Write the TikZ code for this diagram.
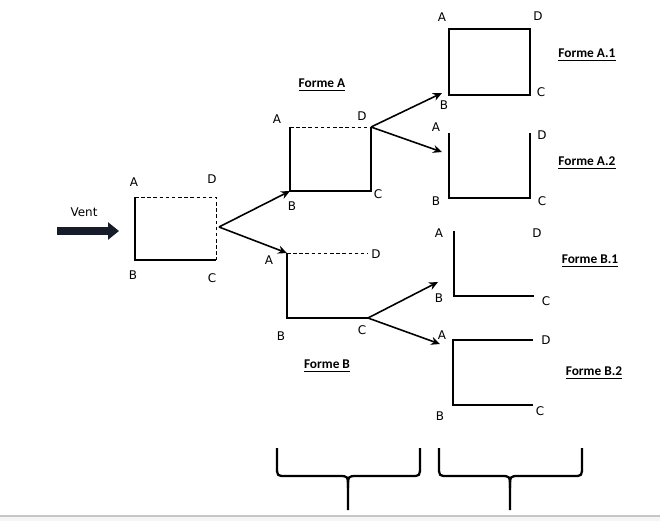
\documentclass[tikz,border=0pt]{standalone}
\usepackage{fontspec}
\setmainfont{Carlito}
\newfontfamily\ptfont{DejaVu Sans}
\usepackage{tikz}
\usetikzlibrary{arrows.meta,positioning,calc}
\definecolor{ventcol}{RGB}{22,28,42}

\begin{document}
\begin{tikzpicture}[
  x=0.2mm, y=-0.2mm,
  wall/.style={line width=1.6pt, line join=miter},
  open/.style={dashed, line width=0.5pt, dash pattern=on 2pt off 1.5pt},
  arr/.style={-{Stealth[length=1.8mm, width=1.6mm]}, line width=0.9pt},
  pt/.style={font=\ptfont\fontsize{6.8}{8}\selectfont, inner sep=0pt},
  title/.style={font=\bfseries\fontsize{7.6}{9}\selectfont, inner sep=0pt},
  brace/.style={line width=1.3pt},
]
  \useasboundingbox (0,0) rectangle (660,521);
  \fill[gray!8] (0,516) rectangle (660,521);
  \draw[gray!45, line width=0.6pt] (0,516) -- (660,516);

  % vent
  \coordinate (vtail) at (57,231);
  \coordinate (vhead) at (119,231);
  \node[pt, font=\ptfont\fontsize{6.8}{8}\selectfont] (vent) at (84,212) {Vent};
  \draw[ventcol, line width=1.6mm, -{Triangle[length=2.2mm, width=3.4mm]}] (vtail) -- (vhead);

  % initial box
  \coordinate (a0) at (135,197);
  \coordinate (b0) at (135,260);
  \coordinate (c0) at (216,260);
  \coordinate (d0) at (216,197);
  \draw[wall] (a0) -- (b0) -- (c0);
  \draw[open] (a0) -- (d0) -- (c0);
  \node[pt] (la0) at (134,182) {A};
  \node[pt] (ld0) at (212,179) {D};
  \node[pt] (lb0) at (133,275) {B};
  \node[pt] (lc0) at (212,278) {C};
  \coordinate (s0) at (219,227);

  % Forme A
  \coordinate (aA) at (290,127);
  \coordinate (bA) at (290,191);
  \coordinate (cA) at (371,191);
  \coordinate (dA) at (371,127);
  \draw[wall] (aA) -- (bA) -- (cA) -- (dA);
  \draw[open] (aA) -- (dA);
  \node[pt] (laA) at (277,119) {A};
  \node[pt] (ldA) at (362,116) {D};
  \node[pt] (lbA) at (292,206) {B};
  \node[pt] (lcA) at (378,194) {C};
  \node[title] (tA) at (322,85) {\underline{Forme A}};

  % Forme B
  \coordinate (aB) at (287,253);
  \coordinate (bB) at (287,318);
  \coordinate (cB) at (368,318);
  \coordinate (dB) at (368,253);
  \draw[wall] (aB) -- (bB) -- (cB);
  \draw[open] (aB) -- (dB);
  \node[pt] (laB) at (269,260) {A};
  \node[pt] (ldB) at (376,254) {D};
  \node[pt] (lbB) at (281,336) {B};
  \node[pt] (lcB) at (362,330) {C};
  \node[title] (tB) at (327,366) {\underline{Forme B}};

  % Forme A.1
  \coordinate (aA1) at (449,29);
  \coordinate (bA1) at (449,95);
  \coordinate (cA1) at (530,95);
  \coordinate (dA1) at (530,29);
  \draw[wall] (aA1) -- (bA1) -- (cA1) -- (dA1) -- cycle;
  \node[pt] (laA1) at (442,17) {A};
  \node[pt] (ldA1) at (538,16) {D};
  \node[pt] (lbA1) at (444,105) {B};
  \node[pt] (lcA1) at (541,92) {C};
  \node[title] (tA1) at (587,55) {\underline{Forme A.1}};

  % Forme A.2
  \coordinate (aA2) at (449,133);
  \coordinate (bA2) at (449,198);
  \coordinate (cA2) at (530,198);
  \coordinate (dA2) at (530,133);
  \draw[wall] (aA2) -- (bA2) -- (cA2) -- (dA2);
  \node[pt] (laA2) at (436,127) {A};
  \node[pt] (ldA2) at (542,135) {D};
  \node[pt] (lbA2) at (436,201) {B};
  \node[pt] (lcA2) at (542,201) {C};
  \node[title] (tA2) at (587,163) {\underline{Forme A.2}};

  % Forme B.1
  \coordinate (aB1) at (454,231);
  \coordinate (bB1) at (454,296);
  \coordinate (cB1) at (534,296);
  \draw[wall] (aB1) -- (bB1) -- (cB1);
  \node[pt] (laB1) at (439,233) {A};
  \node[pt] (ldB1) at (537,233) {D};
  \node[pt] (lbB1) at (439,298) {B};
  \node[pt] (lcB1) at (546,301) {C};
  \node[title] (tB1) at (590,261) {\underline{Forme B.1}};

  % Forme B.2
  \coordinate (aB2) at (453,340);
  \coordinate (bB2) at (453,405);
  \coordinate (cB2) at (533,405);
  \coordinate (dB2) at (533,340);
  \draw[wall] (dB2) -- (aB2) -- (bB2) -- (cB2);
  \node[pt] (laB2) at (442,335) {A};
  \node[pt] (ldB2) at (546,340) {D};
  \node[pt] (lbB2) at (440,416) {B};
  \node[pt] (lcB2) at (540,411) {C};
  \node[title] (tB2) at (594,373) {\underline{Forme B.2}};

  % branches
  \coordinate (eA1) at (442,93);
  \coordinate (eA2) at (442,152);
  \coordinate (eB1) at (438,282);
  \coordinate (eB2) at (440,344);
  \draw[arr] (s0) -- (bA);
  \draw[arr] (s0) -- (aB);
  \draw[arr] (dA) -- (eA1);
  \draw[arr] (dA) -- (eA2);
  \draw[arr] (cB) -- (eB1);
  \draw[arr] (cB) -- (eB2);

  % accolades
  \foreach \bx in {277,439} {
    \draw[brace] (\bx,448) -- (\bx,466) .. controls (\bx,476) .. (\bx+9,476)
      -- (\bx+62,476) .. controls (\bx+71,476) .. (\bx+71,488) -- (\bx+71,510);
    \draw[brace] (\bx+71,488) .. controls (\bx+71,476) .. (\bx+80,476)
      -- (\bx+134,476) .. controls (\bx+143,476) .. (\bx+143,466) -- (\bx+143,448);
  }
\end{tikzpicture}
\end{document}
